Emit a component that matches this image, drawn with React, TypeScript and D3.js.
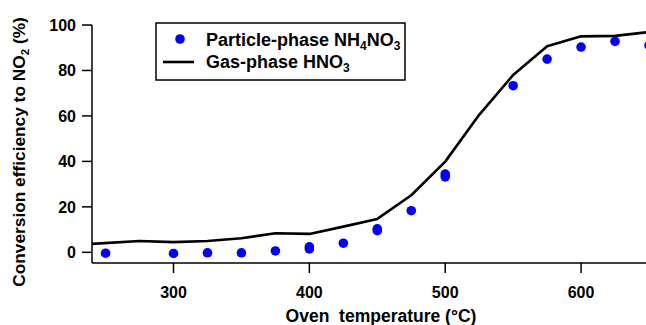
import React from 'react';
import * as d3 from 'd3';

// Gas-phase HNO3 conversion curve (oven temperature °C, efficiency %)
const lineTemps = [240, 275, 300, 325, 350, 375, 400, 425, 450, 475, 500, 525, 550, 575, 600, 625, 650];
const lineValues = [3.7, 5.0, 4.5, 5.0, 6.2, 8.4, 8.1, 11.3, 14.7, 25.1, 39.9, 60.5, 78.0, 90.6, 95.0, 95.2, 96.9];

// Particle-phase NH4NO3 measurements
const dotTemps = [250, 300, 325, 350, 375, 400, 400, 425, 450, 450, 475, 500, 500, 550, 575, 600, 625, 650];
const dotValues = [-0.4, -0.5, -0.2, -0.2, 0.6, 1.5, 2.4, 4.0, 9.5, 10.3, 18.3, 33.2, 34.4, 73.3, 85.0, 90.3, 92.8, 91.0];

const xTicks = [300, 400, 500, 600];
const yTicks = [0, 20, 40, 60, 80, 100];

const W = 646;
const H = 325;
const FONT = '"Liberation Sans", Arial, sans-serif';

const App: React.FC = () => {
  const x = d3.scaleLinear().domain([240, 650]).range([92, 649]);
  const y = d3.scaleLinear().domain([-4.7, 100]).range([263, 25]);

  const line = d3.line<number>()
    .x((_, i) => x(lineTemps[i]))
    .y(d => y(d));

  const x0 = x.range()[0];
  const y0 = y.range()[0];

  return (
    <svg
      width={W}
      height={H}
      style={{ position: 'absolute', left: 0, top: 0, background: '#fff' }}
      fontFamily={FONT}
      fontWeight="bold"
    >
      <defs>
        <clipPath id="plot">
          <rect x={x0} y={0} width={W - x0} height={y0} />
        </clipPath>
      </defs>

      {/* data */}
      <g clipPath="url(#plot)">
        <path d={line(lineValues) || ''} fill="none" stroke="#000" strokeWidth={2.6} strokeLinejoin="round" />
        {dotValues.map((v, i) => (
          <circle key={i} cx={x(dotTemps[i])} cy={y(v)} r={4.8} fill="#0000ff" />
        ))}
      </g>

      {/* axes */}
      <line x1={x0} x2={x0} y1={y(100)} y2={y0} stroke="#000" strokeWidth={1.5} />
      <line x1={x0} x2={W} y1={y0} y2={y0} stroke="#000" strokeWidth={1.5} />
      {yTicks.map(t => (
        <g key={t}>
          <line x1={x0 - 10} x2={x0} y1={y(t)} y2={y(t)} stroke="#000" strokeWidth={1.5} />
          <text x={x0 - 16} y={y(t)} dy="0.36em" textAnchor="end" fontSize={16}>{t}</text>
        </g>
      ))}
      {xTicks.map(t => (
        <g key={t}>
          <line x1={x(t)} x2={x(t)} y1={y0} y2={y0 + 10} stroke="#000" strokeWidth={1.5} />
          <text x={x(t)} y={298} textAnchor="middle" fontSize={16}>{t}</text>
        </g>
      ))}

      {/* axis titles */}
      <text x={381} y={322} textAnchor="middle" fontSize={17.5} style={{ whiteSpace: 'pre' }}>
        Oven  temperature (°C)
      </text>
      <text transform="translate(25,152) rotate(-90)" textAnchor="middle" fontSize={17.3}>
        Conversion efficiency to NO<tspan dy={4} fontSize={11.5}>2</tspan><tspan dy={-4}> (%)</tspan>
      </text>

      {/* legend */}
      <rect x={156} y={23} width={249} height={57} fill="#fff" stroke="#000" strokeWidth={1.5} />
      <circle cx={180} cy={39} r={4.8} fill="#0000ff" />
      <text x={206} y={45.5} fontSize={18}>
        Particle-phase NH<tspan dy={4} fontSize={12}>4</tspan><tspan dy={-4}>NO</tspan><tspan dy={4} fontSize={12}>3</tspan>
      </text>
      <line x1={163} x2={194} y1={62} y2={62} stroke="#000" strokeWidth={2.6} />
      <text x={206} y={67.5} fontSize={18}>
        Gas-phase HNO<tspan dy={4} fontSize={12}>3</tspan>
      </text>
    </svg>
  );
};

export default App;
